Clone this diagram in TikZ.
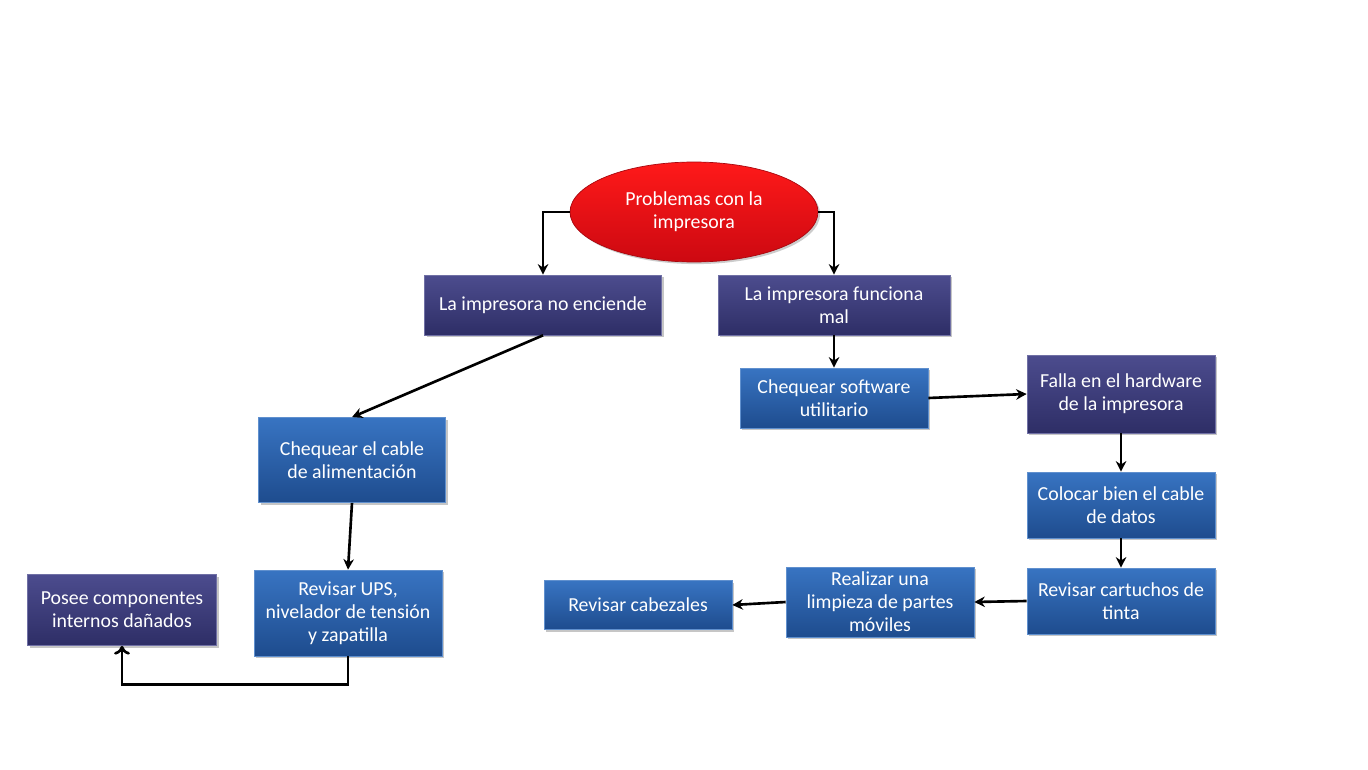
\documentclass[tikz,border=0pt]{standalone}
\usepackage{fontspec}
\setmainfont{Carlito}
\usepackage{tikz}
\usetikzlibrary{shapes.geometric}
\usetikzlibrary{shadows}
\usetikzlibrary{arrows.meta}

\definecolor{boxbluetop}{HTML}{3874C2}
\definecolor{boxbluebot}{HTML}{1E4C8E}
\definecolor{boxpurtop}{HTML}{4C4C8E}
\definecolor{boxpurbot}{HTML}{2E2E66}
\definecolor{ellred}{HTML}{F00A14}

\tikzset{
  txt/.style={text=white, align=center, font=\fontsize{11.3}{13}\selectfont},
  bluebox/.style={txt, rectangle, draw=boxbluetop!80!white, line width=0.4pt,
    top color=boxbluetop, bottom color=boxbluebot,
    drop shadow={opacity=0.45, shadow xshift=1.2pt, shadow yshift=-1.2pt},
    minimum width=3.76cm, inner sep=1pt},
  purbox/.style={bluebox, draw=boxpurtop!80!white,
    top color=boxpurtop, bottom color=boxpurbot},
  flow/.style={line width=1.5pt, -{Stealth[length=6pt,width=6pt]}},
}

\begin{document}
\begin{tikzpicture}[x=0.02cm, y=-0.02cm]
      \useasboundingbox (0,0) rectangle (1368,770);

      %main problem
      \node[txt, ellipse, draw=ellred!70!black, line width=0.4pt,
        top color=red!90!white, bottom color=ellred!85!black,
        drop shadow={opacity=0.4, shadow xshift=1.2pt, shadow yshift=-1.2pt},
        minimum width=4.96cm, minimum height=2cm] (prob) at (694,212)
        {Problemas con la\\impresora};

      %the two branches
      \node[purbox, minimum width=4.74cm, minimum height=1.2cm] (noenc) at (543,305)
        {La impresora no enciende};
      \node[purbox, minimum width=4.64cm, minimum height=1.2cm] (fmal) at (834,305)
        {La impresora funciona\\mal};

      %left side
      \node[bluebox, minimum width=3.74cm, minimum height=1.7cm] (cable) at (352,460)
        {Chequear el cable\\de alimentación};
      \node[bluebox, minimum height=1.72cm] (ups) at (348,613)
        {Revisar UPS,\\nivelador de tensión\\y zapatilla};
      \node[purbox, minimum width=3.78cm, minimum height=1.42cm] (comp) at (122,610)
        {Posee componentes\\internos dañados};

      %right side
      \node[bluebox, minimum height=1.2cm] (soft) at (834,398)
        {Chequear software\\utilitario};
      \node[purbox, minimum height=1.56cm] (hard) at (1121,394)
        {Falla en el hardware\\de la impresora};
      \node[bluebox, minimum height=1.32cm] (datos) at (1121,505)
        {Colocar bien el cable\\de datos};
      \node[bluebox, minimum height=1.32cm] (tinta) at (1121,601)
        {Revisar cartuchos de\\tinta};
      \node[bluebox, minimum height=1.4cm] (limp) at (880,602)
        {Realizar una\\limpieza de partes\\móviles};
      \node[bluebox, minimum height=0.98cm] (cabez) at (638,605)
        {Revisar cabezales};

      % connections from the ellipse
      \draw[flow] (prob.west) -| (noenc.north);
      \draw[flow] (prob.east) -| (fmal.north);

      % connections on the left
      \draw[flow] (noenc.south) -- (cable.north);
      \draw[flow] (cable.south) -- (ups.north);
      \draw[line width=1.5pt, -{To[length=5pt,width=9pt]}] (ups.south) -- ++(0,28) -| (comp.south);

      % connections on the right
      \draw[flow] (fmal.south) -- (soft.north);
      \draw[flow] (soft.east) -- (hard.west);
      \draw[flow] (hard.south) -- (datos.north);
      \draw[flow] (datos.south) -- (tinta.north);
      \draw[flow] (tinta.west) -- (limp.east);
      \draw[flow] (limp.west) -- (cabez.east);
    \end{tikzpicture}
\end{document}
